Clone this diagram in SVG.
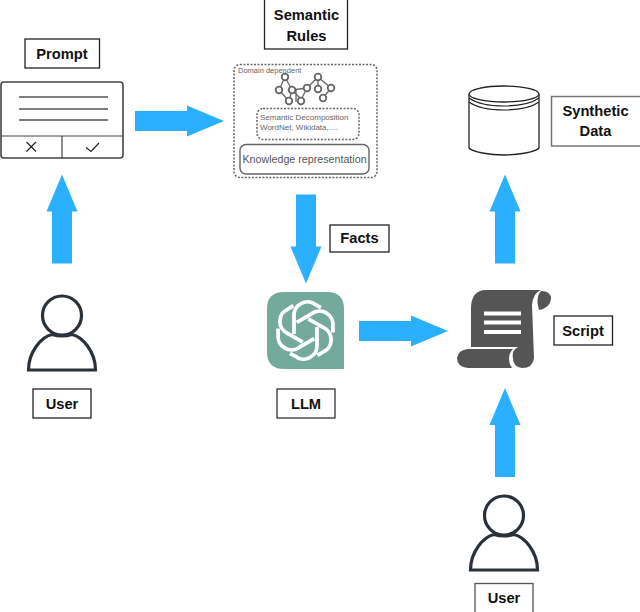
<svg xmlns="http://www.w3.org/2000/svg" xmlns:xlink="http://www.w3.org/1999/xlink" width="640" height="612" viewBox="0 0 640 612">
<style>
text{font-family:"Liberation Sans",Arial,sans-serif;fill:#111;text-anchor:middle}
.lb{font-size:14.700px;font-weight:bold}
.box{fill:#fff;stroke:#222;stroke-width:1.300}
.arrow{fill:#2bb0ff}
.ic{fill:none;stroke:#555;stroke-width:1.600}
.sm{fill:#666;text-anchor:start}
.dash{fill:none;stroke:#666;stroke-width:1.500;stroke-dasharray:2 1.500}
.graph line{stroke:#666;stroke-width:1.300}
.graph circle{fill:#fff;stroke:#666;stroke-width:1.800}
.user{fill:none;stroke:#2b3138;stroke-width:3.200}
</style>
<defs>
<path id="ar" class="arrow" d="M0 -10H52V-15.500L89 0L52 15.500V10H0Z"/>
<g id="person"><circle cx="0" cy="0" r="19.500" class="user"/><path class="user" d="M-33.500 54.500C-33.500 36 -20 21 -10 19 Q0 22 10 19C20 21 33.500 36 33.500 54.500Z"/></g>
<path id="pet" d="M-11.500 3.500V-13.500A13.500 13.500 0 0 1 10.500 -25.500L15.500 -22.800" fill="none" stroke="#fff" stroke-width="3.800"/>
</defs>
<rect width="640" height="612" fill="#fff"/>
<g id="connectors">
<use xlink:href="#ar" transform="translate(135 121)"/>
<use xlink:href="#ar" transform="translate(62 263.500) rotate(-90)"/>
<use xlink:href="#ar" transform="translate(306 194.500) rotate(90)"/>
<use xlink:href="#ar" transform="translate(359 331)"/>
<use xlink:href="#ar" transform="translate(505 263.500) rotate(-90)"/>
<use xlink:href="#ar" transform="translate(505 477) rotate(-90)"/>
</g>
<g id="node-prompt-label"><rect class="box" x="25" y="39" width="74.500" height="29"/><text class="lb" x="62" y="59">Prompt</text></g>
<g id="node-prompt">
<rect x="1" y="82" width="122" height="76" rx="3" fill="#fff" stroke="#444" stroke-width="1.600"/>
<path class="ic" d="M19 97H108M19 109H108M19 120H108"/>
<path d="M1 136H123M62 136V158" fill="none" stroke="#444" stroke-width="1.200"/>
<path d="M26.500 142L36 151.500M36 142L26.500 151.500M86 147.500L91 151.500L99 143" fill="none" stroke="#222" stroke-width="1.200"/>
</g>
<g id="node-rules-label"><rect class="box" x="264.500" y="-1" width="83" height="50"/><text class="lb" x="306.500" y="20">Semantic</text><text class="lb" x="306.500" y="41">Rules</text></g>
<g id="node-rules">
<rect class="dash" x="234" y="64.500" width="143" height="113" rx="6"/>
<text class="sm" x="238" y="73" font-size="7.500">Domain dependent</text>
<g class="graph">
<line x1="285" y1="77" x2="279" y2="90"/><line x1="285" y1="77" x2="292" y2="90"/><line x1="279" y1="90" x2="289" y2="101"/><line x1="292" y1="90" x2="289" y2="101"/><line x1="292" y1="90" x2="301" y2="99"/><line x1="292" y1="90" x2="307" y2="88"/><line x1="301" y1="100" x2="307" y2="88"/><line x1="296" y1="90" x2="296" y2="102"/><line x1="307" y1="88" x2="318" y2="77"/><line x1="318" y1="77" x2="318" y2="89"/><line x1="318" y1="77" x2="331" y2="88"/><line x1="331" y1="88" x2="323" y2="98"/>
<circle cx="285" cy="77" r="3.300"/><circle cx="279" cy="90" r="3.300"/><circle cx="292" cy="90" r="3.300"/><circle cx="289" cy="101" r="3.300"/><circle cx="301" cy="101" r="3.300"/><circle cx="307" cy="88" r="3.300"/><circle cx="318" cy="77" r="3.300"/><circle cx="318" cy="89" r="3.300"/><circle cx="331" cy="88" r="3.300"/><circle cx="323" cy="98" r="3.300"/>
</g>
<rect class="dash" x="257" y="108.500" width="102" height="31" rx="6"/>
<text class="sm" x="260" y="120" font-size="8">Semantic Decomposition</text>
<text class="sm" x="260" y="130" font-size="8">WordNet, Wikidata,....</text>
<rect x="240" y="144.500" width="129" height="29.500" rx="6" fill="none" stroke="#666" stroke-width="1.400"/>
<text x="304.500" y="163" font-size="10.700" style="fill:#555">Knowledge representation</text>
</g>
<g id="node-db">
<path d="M469 94V148C472 152 490 155 504 155C518 155 536 152 539 148V94" fill="#fff" stroke="#222" stroke-width="1.300"/>
<ellipse cx="504" cy="94" rx="35" ry="8" fill="#fff" stroke="#222" stroke-width="1.300"/>
<path d="M469 98C476 103 490 106 504 106C518 106 532 103 539 98M469 102C476 107 490 110 504 110C518 110 532 107 539 102" fill="none" stroke="#222" stroke-width="1.200"/>
</g>
<g id="node-data-label"><rect x="551.500" y="96.500" width="90" height="49.500" fill="#fff" stroke="#777" stroke-width="1.500"/><text class="lb" x="595.500" y="116">Synthetic</text><text class="lb" x="595.500" y="136">Data</text></g>
<g id="node-facts-label"><rect class="box" x="330" y="225" width="59" height="27"/><text class="lb" x="359.500" y="243">Facts</text></g>
<g id="node-llm">
<path d="M267 309Q267 292 284 292H327Q344 292 344 309V369H284Q267 369 267 352Z" fill="#74aa9c"/>
<g transform="translate(305.500 330.500)">
<use xlink:href="#pet"/><use xlink:href="#pet" transform="rotate(60)"/><use xlink:href="#pet" transform="rotate(120)"/><use xlink:href="#pet" transform="rotate(180)"/><use xlink:href="#pet" transform="rotate(240)"/><use xlink:href="#pet" transform="rotate(300)"/>
</g>
</g>
<g id="node-llm-label"><rect x="277" y="389" width="58" height="29" fill="#fff" stroke="#333" stroke-width="1.300"/><text class="lb" x="306" y="409">LLM</text></g>
<g id="node-script">
<path d="M471 309Q471 290 486 290H541Q533 293 532 305L534 358Q533 368 522 368Q511 367 513 352Q514 349 518 347H471Z" fill="#555"/>
<path d="M541 291Q551 291 551 299Q550 308 539 310L537.500 303Q537 295 541 291Z" fill="#555"/>
<path d="M468 349H513Q509 353 509 359Q509 364 512 368H468Q457 367 457 358Q458 350 468 349Z" fill="#555"/>
<path d="M484 313.500H521M484 322.500H521M484 332H521" stroke="#fff" stroke-width="4" fill="none"/>
</g>
<g id="node-script-label"><rect class="box" x="554" y="316" width="58.500" height="29"/><text class="lb" x="583" y="336">Script</text></g>
<g id="node-user1"><use xlink:href="#person" transform="translate(62 315.500)"/></g>
<g id="node-user1-label"><rect class="box" x="33" y="389" width="58" height="29"/><text class="lb" x="62" y="409">User</text></g>
<g id="node-user2"><use xlink:href="#person" transform="translate(504 515.500)"/></g>
<g id="node-user2-label"><rect x="475" y="583.500" width="58" height="30" fill="#fff" stroke="#555" stroke-width="1.300"/><text class="lb" x="504" y="603">User</text></g>
</svg>
